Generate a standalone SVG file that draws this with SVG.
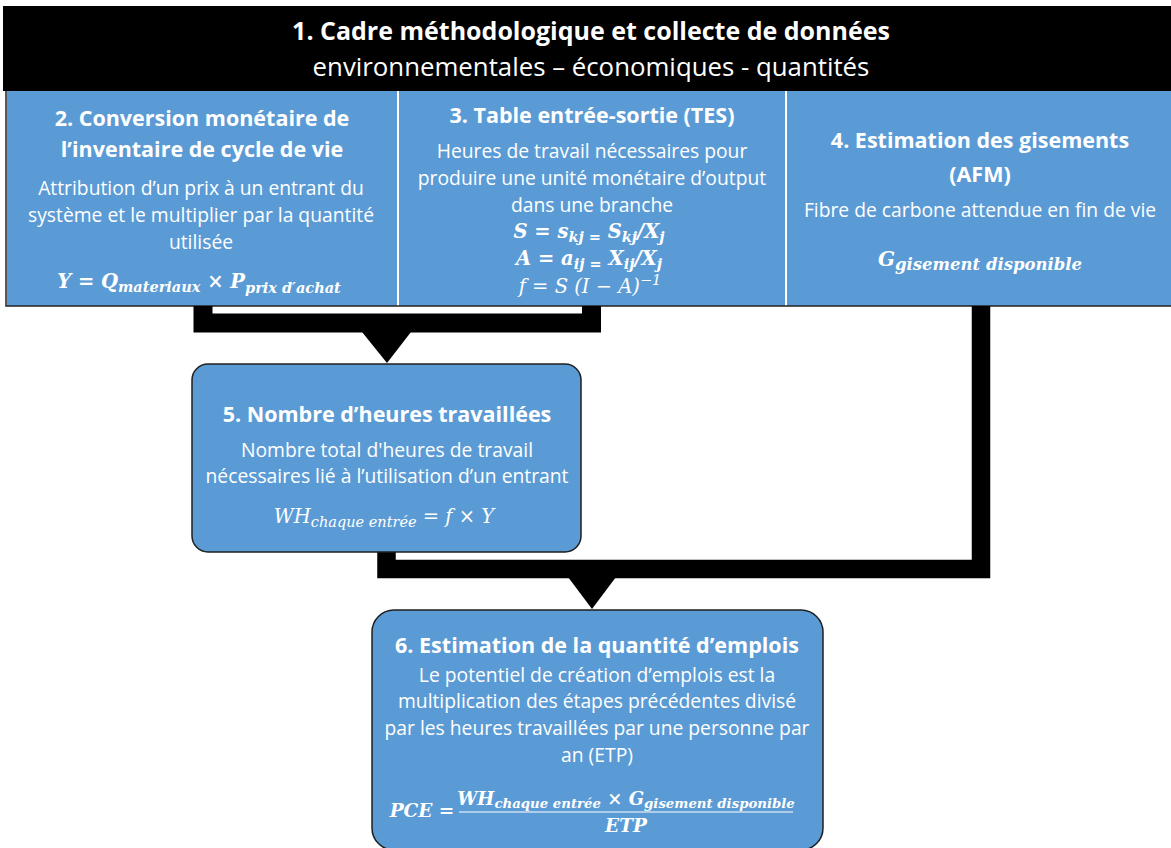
<svg xmlns="http://www.w3.org/2000/svg" width="1171" height="848" viewBox="0 0 1171 848">
<style>
.t{font-family:"Open Sans","Liberation Sans",sans-serif;fill:#fff;text-anchor:middle}
.h{font-weight:bold}
.tt{font-size:21.5px;font-weight:bold}
.b{font-size:19.3px}
.m{font-family:"DejaVu Serif","Liberation Serif",serif;fill:#fff;text-anchor:middle;font-style:italic}
.mb{font-weight:bold}
.s{font-size:14.5px}
.blue{fill:#5B9BD5}
.rbox{fill:#5B9BD5;stroke:#1f1f1f;stroke-width:1.5}
.conn{fill:none;stroke:#000;stroke-linejoin:miter;stroke-linecap:butt}
</style>
<rect width="1171" height="848" fill="#fff"/>
<g id="n1">
<rect x="3" y="6" width="1168" height="85" fill="#000"/>
<text class="t h" x="591" y="40" font-size="25">1. Cadre méthodologique et collecte de données</text>
<text class="t" x="591" y="76" font-size="25.8">environnementales – économiques - quantités</text>
</g>
<g id="n2">
<rect class="blue" x="7" y="91" width="390" height="215"/>
<text class="t tt" x="202" y="126">2. Conversion monétaire de</text>
<text class="t tt" x="202" y="157">l’inventaire  de cycle de vie</text>
<text class="t b" x="201" y="195">Attribution d’un prix à un entrant du</text>
<text class="t b" x="201" y="222">système et le multiplier par la quantité</text>
<text class="t b" x="201" y="249">utilisée</text>
<text class="m mb" x="199" y="288" font-size="19.5">Y = Q<tspan class="s" dy="4">materiaux</tspan><tspan dy="-4"> × P</tspan><tspan class="s" dy="5">prix d′achat</tspan></text>
</g>
<g id="n3">
<rect class="blue" x="399" y="91" width="386" height="215"/>
<text class="t tt" x="592" y="123">3. Table entrée-sortie (TES)</text>
<text class="t b" x="592" y="158">Heures de travail nécessaires pour</text>
<text class="t b" x="592" y="185">produire une unité monétaire d’output</text>
<text class="t b" x="592" y="212">dans une branche</text>
<text class="m mb" x="589" y="238" font-size="19.5">S = s<tspan class="s" dy="4">kj =</tspan><tspan dy="-4"> S</tspan><tspan class="s" dy="4">kj</tspan><tspan dy="-4">/X</tspan><tspan class="s" dy="4">j</tspan></text>
<text class="m mb" x="589" y="265" font-size="19.5">A = a<tspan class="s" dy="4">ij =</tspan><tspan dy="-4"> X</tspan><tspan class="s" dy="4">ij</tspan><tspan dy="-4">/X</tspan><tspan class="s" dy="4">j</tspan></text>
<text class="m" x="590" y="293" font-size="19.5">f = S (I − A)<tspan class="s" dy="-8">−1</tspan></text>
</g>
<g id="n4">
<rect class="blue" x="787" y="91" width="384" height="215"/>
<text class="t tt" x="980" y="148">4. Estimation des gisements</text>
<text class="t tt" x="980" y="182">(AFM)</text>
<text class="t b" x="980" y="217">Fibre de carbone attendue en fin de vie</text>
<text class="m mb" x="980" y="266" font-size="20">G<tspan font-size="16.5" dy="4">gisement disponible</tspan></text>
</g>
<path d="M6,91 V306 H1171" fill="none" stroke="#222" stroke-width="1.5"/>
<g id="connectors">
<path class="conn" d="M203,306 V323 H591.5 V306" stroke-width="19"/>
<polygon points="362,332 411,332 387,363" fill="#000"/>
<path class="conn" d="M386.5,552 V569 H981 V306" stroke-width="18.5"/>
<polygon points="568,577 616,577 592,609" fill="#000"/>
</g>
<g id="n5">
<rect class="rbox" x="192" y="364" width="389" height="188" rx="16"/>
<text class="t tt" x="387" y="422">5. Nombre d’heures travaillées</text>
<text class="t b" x="387" y="457">Nombre total d'heures de travail</text>
<text class="t b" x="387" y="483">nécessaires lié à l’utilisation d’un entrant</text>
<text class="m" x="384" y="523" font-size="19.5">WH<tspan class="s" dy="4">chaque entrée</tspan><tspan dy="-4"> = f × Y</tspan></text>
</g>
<g id="n6">
<rect class="rbox" x="372" y="610" width="451" height="240" rx="22"/>
<text class="t tt" x="597" y="653">6. Estimation de la quantité d’emplois</text>
<text class="t b" x="597" y="682">Le potentiel de création d’emplois est la</text>
<text class="t b" x="597" y="708">multiplication des étapes précédentes divisé</text>
<text class="t b" x="597" y="735">par les heures travaillées par une personne par</text>
<text class="t b" x="597" y="762">an (ETP)</text>
<text class="m mb" x="422" y="817" font-size="18.5">PCE =</text>
<text class="m mb" x="626" y="805" font-size="18">WH<tspan font-size="13.3" dy="3">chaque entrée</tspan><tspan dy="-3"> × G</tspan><tspan font-size="13.3" dy="3">gisement disponible</tspan></text>
<line x1="459" y1="812" x2="793" y2="812" stroke="#fff" stroke-width="1.2"/>
<text class="m mb" x="626" y="832" font-size="18.5">ETP</text>
</g>
</svg>
